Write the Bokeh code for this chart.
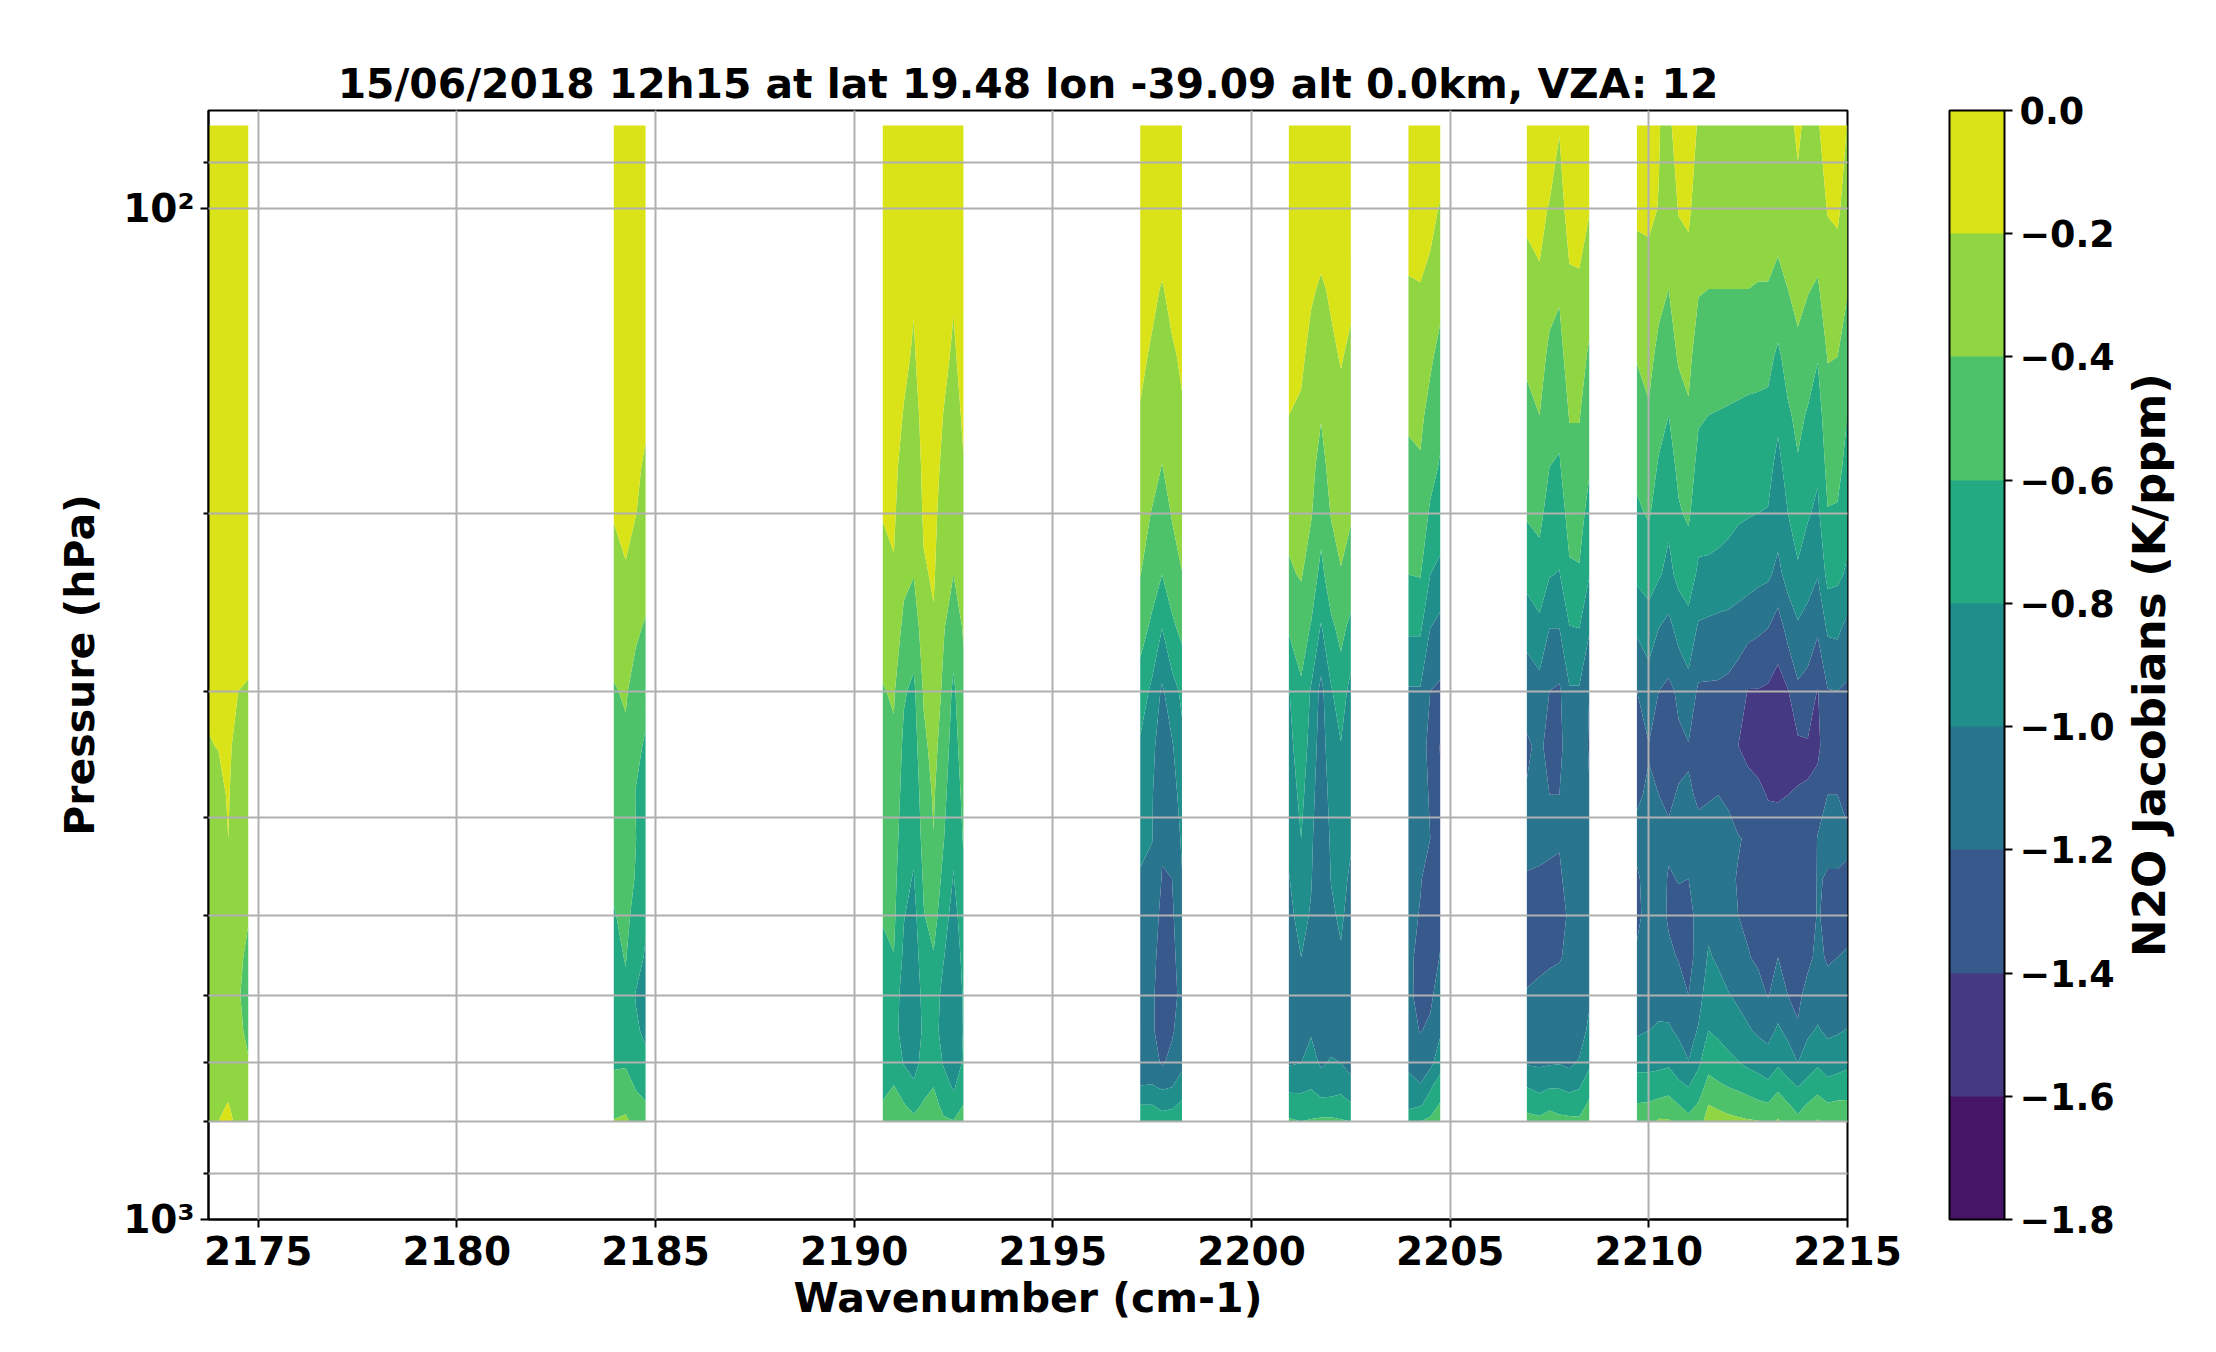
import numpy as np
from bokeh.embed import file_html
from bokeh.layouts import row
from bokeh.models import ColorBar, FixedTicker, LinearColorMapper, Range1d
from bokeh.palettes import Viridis256
from bokeh.plotting import figure
from bokeh.resources import INLINE

title_text = "15/06/2018 12h15 at lat 19.48 lon -39.09 alt 0.0km, VZA: 12"
levels = [-1.8, -1.6, -1.4, -1.2, -1.0, -0.8, -0.6, -0.4, -0.2, 0.0]
x_ticks = [2175, 2180, 2185, 2190, 2195, 2200, 2205, 2210, 2215]
pressure = [82.7, 100, 120, 140, 160, 180, 200, 230, 260, 300, 340, 380, 420, 460, 500, 550, 600, 650, 700, 740, 770, 800]

wn1 = [2173.75, 2174.0, 2174.25, 2174.5, 2174.75]
seg1 = [
 [-.01,-.03,-.05,-.07,-.09,-.11,-.125,-.15,-.165,-.185,-.205,-.24,-.26,-.28,-.3,-.32,-.33,-.32,-.3,-.27,-.24,-.22],
 [-.01,-.03,-.05,-.07,-.09,-.11,-.12,-.145,-.16,-.18,-.197,-.23,-.25,-.27,-.29,-.31,-.33,-.31,-.29,-.25,-.22,-.2],
 [-.01,-.02,-.04,-.06,-.08,-.1,-.115,-.135,-.155,-.17,-.18,-.19,-.2,-.25,-.27,-.3,-.33,-.3,-.27,-.23,-.195,-.17],
 [-.01,-.03,-.06,-.08,-.1,-.12,-.14,-.16,-.18,-.2,-.24,-.27,-.3,-.32,-.34,-.37,-.38,-.37,-.34,-.3,-.26,-.23],
 [-.01,-.03,-.06,-.08,-.1,-.12,-.14,-.16,-.18,-.205,-.26,-.3,-.33,-.37,-.39,-.43,-.48,-.43,-.39,-.33,-.28,-.25],
]
wn2 = [2183.95, 2184.25, 2184.5, 2184.75]
seg2 = [
 [-.02,-.05,-.09,-.12,-.145,-.17,-.19,-.256,-.332,-.413,-.461,-.504,-.542,-.576,-.61,-.65,-.68,-.67,-.62,-.55,-.47,-.39],
 [-.02,-.04,-.08,-.105,-.13,-.15,-.17,-.21,-.289,-.381,-.432,-.47,-.5,-.53,-.56,-.59,-.63,-.67,-.62,-.52,-.45,-.36],
 [-.02,-.06,-.1,-.135,-.16,-.18,-.195,-.286,-.37,-.47,-.57,-.605,-.595,-.61,-.65,-.72,-.81,-.77,-.7,-.61,-.54,-.47],
 [-.02,-.06,-.11,-.15,-.185,-.215,-.255,-.33,-.42,-.565,-.615,-.65,-.69,-.72,-.77,-.82,-.87,-.84,-.75,-.67,-.58,-.52],
]
wn3 = [2190.72, 2191.0, 2191.25, 2191.5, 2191.75, 2192.0, 2192.25, 2192.5, 2192.75]
seg3 = [
 [-.02,-.05,-.09,-.12,-.15,-.175,-.19,-.265,-.335,-.41,-.455,-.49,-.525,-.56,-.59,-.63,-.7,-.76,-.74,-.66,-.58,-.52],
 [-.02,-.04,-.07,-.105,-.13,-.16,-.175,-.215,-.29,-.38,-.43,-.47,-.505,-.54,-.565,-.605,-.68,-.74,-.7,-.59,-.53,-.46],
 [-.03,-.07,-.12,-.165,-.21,-.26,-.31,-.36,-.445,-.58,-.64,-.68,-.72,-.76,-.79,-.84,-.9,-.87,-.81,-.674,-.59,-.52],
 [-.03,-.09,-.185,-.22,-.27,-.31,-.35,-.395,-.51,-.64,-.69,-.74,-.77,-.81,-.87,-.93,-.97,-.95,-.88,-.76,-.66,-.55],
 [-.02,-.04,-.08,-.11,-.14,-.16,-.175,-.22,-.3,-.38,-.44,-.49,-.53,-.575,-.61,-.66,-.72,-.76,-.72,-.65,-.58,-.5],
 [-.02,-.04,-.07,-.09,-.115,-.14,-.155,-.18,-.22,-.28,-.34,-.38,-.405,-.46,-.52,-.615,-.68,-.72,-.68,-.6,-.53,-.46],
 [-.03,-.07,-.11,-.16,-.205,-.24,-.28,-.33,-.385,-.44,-.49,-.54,-.59,-.655,-.72,-.79,-.87,-.88,-.815,-.72,-.66,-.57],
 [-.03,-.09,-.185,-.225,-.27,-.31,-.35,-.4,-.51,-.64,-.69,-.74,-.77,-.81,-.87,-.92,-.98,-.97,-.9,-.82,-.72,-.59],
 [-.02,-.06,-.1,-.14,-.175,-.21,-.26,-.32,-.385,-.44,-.495,-.545,-.585,-.64,-.7,-.75,-.78,-.79,-.78,-.7,-.6,-.53],
]
wn4 = [2197.2, 2197.5, 2197.75, 2198.0, 2198.25]
seg4 = [
 [-.03,-.08,-.14,-.17,-.21,-.27,-.33,-.395,-.535,-.68,-.83,-.89,-.95,-1.02,-1.07,-1.12,-1.15,-1.16,-1.12,-.99,-.8,-.62],
 [-.03,-.1,-.17,-.22,-.285,-.34,-.41,-.53,-.635,-.85,-.97,-.99,-.995,-1.05,-1.1,-1.13,-1.16,-1.17,-1.13,-.98,-.8,-.63],
 [-.03,-.12,-.21,-.27,-.34,-.405,-.5,-.6,-.8,-1.03,-1.07,-1.12,-1.18,-1.21,-1.25,-1.3,-1.33,-1.3,-1.22,-1.02,-.87,-.68],
 [-.03,-.1,-.16,-.22,-.28,-.33,-.385,-.5,-.64,-.88,-1.02,-1.09,-1.15,-1.2,-1.23,-1.26,-1.28,-1.22,-1.15,-1.0,-.84,-.68],
 [-.03,-.08,-.14,-.18,-.215,-.27,-.33,-.405,-.55,-.76,-.85,-.92,-.97,-1.01,-1.05,-1.09,-1.13,-1.12,-1.05,-.9,-.76,-.62],
]
wn5 = [2200.94, 2201.25, 2201.5, 2201.75, 2202.0, 2202.25, 2202.5]
seg5 = [
 [-.03,-.07,-.13,-.17,-.2,-.28,-.35,-.425,-.58,-.81,-.86,-.91,-.96,-1.01,-1.05,-1.09,-1.12,-1.1,-1.02,-.84,-.71,-.57],
 [-.03,-.07,-.14,-.17,-.225,-.28,-.325,-.385,-.51,-.63,-.69,-.75,-.8,-.87,-.93,-1.0,-1.06,-1.07,-1.0,-.84,-.72,-.6],
 [-.03,-.11,-.18,-.25,-.3,-.35,-.385,-.5,-.615,-.82,-.87,-.92,-.96,-.985,-1.02,-1.07,-1.1,-1.02,-.92,-.81,-.71,-.58],
 [-.02,-.12,-.22,-.31,-.39,-.465,-.535,-.65,-.82,-1.06,-1.1,-1.14,-1.17,-1.18,-1.16,-1.08,-1.13,-1.14,-1.03,-.87,-.75,-.55],
 [-.03,-.1,-.18,-.23,-.29,-.34,-.39,-.5,-.64,-.82,-.88,-.93,-.97,-.995,-1.03,-1.07,-1.1,-1.08,-.98,-.87,-.74,-.55],
 [-.03,-.08,-.15,-.19,-.24,-.29,-.34,-.41,-.55,-.69,-.81,-.87,-.91,-.94,-.97,-1.02,-1.07,-1.07,-1.0,-.85,-.72,-.58],
 [-.03,-.11,-.17,-.23,-.285,-.335,-.38,-.49,-.65,-.87,-.98,-.99,-.98,-1.03,-1.07,-1.12,-1.15,-1.13,-1.07,-.93,-.78,-.6],
]
wn6 = [2203.95, 2204.25, 2204.5, 2204.75]
seg6 = [
 [-.02,-.11,-.22,-.31,-.375,-.44,-.51,-.6,-.77,-1.02,-1.06,-1.09,-1.12,-1.14,-1.15,-1.16,-1.16,-1.12,-1.04,-.93,-.83,-.72],
 [-.02,-.1,-.21,-.3,-.36,-.42,-.47,-.59,-.77,-1.02,-1.1,-1.16,-1.18,-1.19,-1.21,-1.25,-1.26,-1.21,-1.1,-.98,-.82,-.6],
 [-.02,-.13,-.27,-.37,-.465,-.53,-.63,-.8,-1.0,-1.2,-1.27,-1.21,-1.2,-1.26,-1.28,-1.3,-1.24,-1.16,-1.05,-.82,-.72,-.55],
 [-.03,-.22,-.34,-.46,-.55,-.62,-.7,-.85,-1.07,-1.23,-1.41,-1.37,-1.21,-1.27,-1.24,-1.19,-1.1,-1.03,-.88,-.7,-.58,-.45],
]
wn7 = [2206.93, 2207.25, 2207.5, 2207.75, 2208.0, 2208.25, 2208.5]
seg7 = [
 [-.02,-.16,-.28,-.37,-.45,-.53,-.58,-.74,-.92,-1.14,-1.22,-1.19,-1.16,-1.21,-1.24,-1.24,-1.19,-1.1,-1.02,-.8,-.67,-.52],
 [-.02,-.13,-.24,-.33,-.4,-.48,-.55,-.68,-.85,-1.08,-1.17,-1.17,-1.18,-1.21,-1.24,-1.23,-1.17,-1.1,-1.03,-.85,-.7,-.55],
 [-.03,-.22,-.34,-.44,-.53,-.6,-.68,-.79,-1.0,-1.2,-1.25,-1.2,-1.19,-1.21,-1.26,-1.22,-1.15,-1.1,-1.02,-.81,-.65,-.5],
 [-.19,-.28,-.38,-.46,-.55,-.62,-.7,-.81,-1.0,-1.23,-1.26,-1.2,-1.19,-1.22,-1.27,-1.21,-1.14,-1.08,-1.01,-.81,-.68,-.54],
 [-.02,-.12,-.24,-.32,-.39,-.46,-.53,-.63,-.81,-1.02,-1.07,-1.1,-1.12,-1.15,-1.17,-1.17,-1.16,-1.12,-1.04,-.85,-.68,-.56],
 [-.02,-.12,-.23,-.32,-.39,-.46,-.52,-.62,-.8,-1.02,-1.07,-1.11,-1.14,-1.15,-1.15,-1.15,-1.12,-1.09,-.98,-.81,-.7,-.56],
 [-.02,-.19,-.32,-.43,-.51,-.58,-.67,-.79,-.98,-1.2,-1.22,-1.19,-1.17,-1.15,-1.12,-1.07,-1.03,-.96,-.84,-.68,-.56,-.45],
]
wn8 = [2209.7, 2210.0, 2210.25, 2210.5, 2210.75, 2211.0, 2211.25, 2211.5, 2211.75, 2212.0, 2212.25,
       2212.5, 2212.75, 2213.0, 2213.25, 2213.5, 2213.75, 2214.0, 2214.25, 2214.5, 2214.75, 2215.0]
seg8 = [
 [-.03,-.17,-.29,-.39,-.48,-.56,-.63,-.76,-.97,-1.2,-1.24,-1.21,-1.18,-1.21,-1.23,-1.18,-1.1,-1.03,-.86,-.7,-.59,-.48],
 [-.02,-.17,-.26,-.35,-.42,-.51,-.58,-.73,-.88,-1.12,-1.205,-1.19,-1.18,-1.17,-1.15,-1.12,-1.08,-1.0,-.86,-.7,-.58,-.47],
 [-.19,-.205,-.35,-.45,-.54,-.62,-.69,-.78,-1.0,-1.2,-1.24,-1.2,-1.17,-1.15,-1.14,-1.12,-1.08,-.97,-.85,-.68,-.55,-.37],
 [-.26,-.31,-.4,-.49,-.6,-.68,-.76,-.85,-1.06,-1.24,-1.25,-1.22,-1.18,-1.21,-1.22,-1.17,-1.1,-.97,-.83,-.66,-.53,-.38],
 [-.06,-.19,-.31,-.38,-.49,-.56,-.62,-.75,-.93,-1.17,-1.23,-1.19,-1.18,-1.195,-1.23,-1.21,-1.13,-1.04,-.88,-.76,-.6,-.47],
 [-.05,-.17,-.28,-.36,-.42,-.5,-.57,-.72,-.86,-1.08,-1.21,-1.19,-1.18,-1.2,-1.24,-1.26,-1.2,-1.1,-.99,-.8,-.68,-.53],
 [-.23,-.29,-.39,-.48,-.58,-.66,-.73,-.83,-1.03,-1.23,-1.24,-1.21,-1.18,-1.17,-1.16,-1.13,-1.08,-.98,-.83,-.7,-.58,-.47],
 [-.23,-.31,-.4,-.5,-.6,-.67,-.74,-.83,-1.05,-1.23,-1.24,-1.21,-1.15,-1.1,-1.05,-.98,-.89,-.8,-.67,-.52,-.4,-.33],
 [-.23,-.31,-.4,-.5,-.61,-.68,-.75,-.84,-1.07,-1.23,-1.23,-1.2,-1.16,-1.12,-1.08,-1.03,-.93,-.83,-.72,-.56,-.42,-.35],
 [-.23,-.31,-.4,-.51,-.62,-.7,-.76,-.86,-1.08,-1.25,-1.24,-1.21,-1.18,-1.17,-1.13,-1.08,-.99,-.88,-.75,-.6,-.45,-.36],
 [-.23,-.31,-.4,-.52,-.63,-.71,-.78,-.89,-1.11,-1.3,-1.4,-1.29,-1.19,-1.21,-1.2,-1.13,-1.03,-.94,-.79,-.63,-.48,-.37],
 [-.23,-.31,-.4,-.53,-.64,-.72,-.79,-.92,-1.14,-1.41,-1.45,-1.33,-1.22,-1.24,-1.23,-1.19,-1.08,-.98,-.84,-.66,-.53,-.38],
 [-.23,-.31,-.41,-.53,-.65,-.73,-.8,-.95,-1.17,-1.41,-1.47,-1.36,-1.3,-1.28,-1.26,-1.23,-1.13,-1.03,-.87,-.7,-.56,-.39],
 [-.23,-.31,-.41,-.54,-.66,-.74,-.81,-.97,-1.2,-1.43,-1.47,-1.41,-1.33,-1.29,-1.27,-1.24,-1.21,-1.07,-.9,-.75,-.58,-.46],
 [-.23,-.32,-.46,-.64,-.76,-.86,-.92,-1.05,-1.3,-1.48,-1.47,-1.41,-1.35,-1.3,-1.26,-1.2,-1.11,-.97,-.83,-.64,-.49,-.38],
 [-.23,-.31,-.4,-.52,-.63,-.72,-.8,-.93,-1.13,-1.41,-1.46,-1.4,-1.32,-1.28,-1.27,-1.25,-1.2,-1.05,-.89,-.74,-.58,-.48],
 [-.18,-.23,-.33,-.46,-.55,-.62,-.68,-.84,-1.03,-1.24,-1.44,-1.39,-1.31,-1.28,-1.26,-1.25,-1.24,-1.18,-1.0,-.8,-.68,-.54],
 [-.23,-.31,-.39,-.5,-.62,-.71,-.78,-.92,-1.08,-1.28,-1.42,-1.39,-1.33,-1.29,-1.27,-1.24,-1.14,-1.04,-.88,-.74,-.58,-.47],
 [-.23,-.3,-.42,-.59,-.69,-.77,-.84,-.99,-1.17,-1.41,-1.46,-1.29,-1.19,-1.19,-1.19,-1.16,-1.09,-.98,-.83,-.65,-.53,-.38],
 [-.05,-.19,-.31,-.39,-.48,-.54,-.61,-.74,-.97,-1.21,-1.23,-1.2,-1.17,-1.21,-1.23,-1.22,-1.13,-1.04,-.88,-.74,-.58,-.47],
 [-.05,-.17,-.3,-.4,-.47,-.54,-.62,-.76,-.96,-1.2,-1.23,-1.2,-1.17,-1.21,-1.23,-1.2,-1.1,-1.02,-.86,-.72,-.56,-.46],
 [-.21,-.28,-.39,-.49,-.6,-.67,-.73,-.83,-1.06,-1.23,-1.25,-1.22,-1.19,-1.21,-1.23,-1.19,-1.1,-.99,-.84,-.68,-.57,-.47],
]

band_colors = [Viridis256[i] for i in (14, 42, 71, 99, 127, 156, 184, 213, 241)]

FONT = "DejaVu Sans"
p = figure(
    frame_width=1639, frame_height=1109,
    min_border_left=208, min_border_top=98, min_border_right=272, min_border_bottom=118,
    x_range=Range1d(2173.75, 2215), y_range=Range1d(1000, 79.9),
    y_axis_type="log", output_backend="svg", toolbar_location=None,
    background_fill_color="white", border_fill_color="white",
)

for wn, seg in [(wn1, seg1), (wn2, seg2), (wn3, seg3), (wn4, seg4), (wn5, seg5), (wn6, seg6), (wn7, seg7), (wn8, seg8)]:
    r = p.contour(wn, pressure, np.array(seg).T, levels, fill_color=band_colors)
    r.fill_renderer.glyph.line_color = r.fill_renderer.glyph.fill_color
    r.fill_renderer.glyph.line_width = 1

p.title.text = title_text
p.title.align = "center"
p.title.text_font = FONT
p.title.text_font_size = "40.8px"
p.title.text_font_style = "bold"
p.title.text_color = "black"
p.title.standoff = 6

p.xaxis.ticker = FixedTicker(ticks=x_ticks)
p.yaxis.ticker = FixedTicker(ticks=[100, 1000], minor_ticks=[90, 200, 300, 400, 500, 600, 700, 800, 900])
p.yaxis.major_label_overrides = {100: "10²", 1000: "10³"}
p.xaxis.axis_label = "Wavenumber (cm-1)"
p.yaxis.axis_label = "Pressure (hPa)"
for ax in (p.xaxis, p.yaxis):
    ax.axis_label_text_font = FONT
    ax.axis_label_text_font_size = "41px"
    ax.axis_label_text_font_style = "bold"
    ax.axis_label_text_color = "black"
    ax.major_label_text_font = FONT
    ax.major_label_text_font_size = "39px"
    ax.major_label_text_font_style = "bold"
    ax.major_label_text_color = "black"
    ax.axis_line_color = "black"
    ax.axis_line_width = 2
    ax.major_tick_line_color = "black"
    ax.major_tick_line_width = 2
    ax.major_tick_out = 8
    ax.major_tick_in = 0
    ax.minor_tick_in = 0
p.xaxis.minor_tick_line_color = None
p.yaxis.minor_tick_line_color = "black"
p.yaxis.minor_tick_line_width = 2
p.yaxis.minor_tick_out = 5
p.xaxis.major_label_standoff = 8
p.yaxis.major_label_standoff = 6
p.xaxis.axis_label_standoff = 6
p.yaxis.axis_label_standoff = 16

for g in (p.xgrid, p.ygrid):
    g.grid_line_color = "#b0b0b0"
    g.grid_line_width = 2
    g.level = "annotation"
p.ygrid.minor_grid_line_color = "#b0b0b0"
p.ygrid.minor_grid_line_width = 2
p.outline_line_color = "black"
p.outline_line_width = 2

mapper = LinearColorMapper(palette=band_colors, low=-1.8, high=0.0)
bar_ticks = [-1.8, -1.6, -1.4, -1.2, -1.0, -0.8, -0.6, -0.4, -0.2, 0.0]
bar_labels = ["\u22121.8", "\u22121.6", "\u22121.4", "\u22121.2", "\u22121.0", "\u22120.8", "\u22120.6", "\u22120.4", "\u22120.2", "0.0"]
cb = ColorBar(
    color_mapper=mapper, ticker=FixedTicker(ticks=bar_ticks),
    major_label_overrides=dict(zip(bar_ticks, bar_labels)),
    width=55, height=1109, location=(1741, 0), margin=0, padding=0,
    major_label_text_font=FONT, major_label_text_font_size="36.5px", major_label_text_font_style="bold",
    major_label_text_color="black", major_tick_line_color="black", major_tick_line_width=2,
    major_tick_in=0, major_tick_out=8, minor_tick_line_color=None, bar_line_color="black", bar_line_width=2,
    label_standoff=7,
)
p.add_layout(cb, "center")

# The colour-bar title is the left-axis label of a narrow blank figure placed next to the main one.
p2 = figure(
    frame_width=4, frame_height=1109,
    min_border_left=40, min_border_top=110, min_border_right=0, min_border_bottom=0,
    x_range=Range1d(0, 1), y_range=Range1d(0, 1),
    x_axis_location=None, output_backend="svg", toolbar_location=None,
    background_fill_color="white", border_fill_color="white",
)
p2.outline_line_color = None
p2.grid.visible = False
p2.yaxis.ticker = FixedTicker(ticks=[])
p2.yaxis.axis_line_color = None
p2.yaxis.major_tick_line_color = None
p2.yaxis.minor_tick_line_color = None
p2.yaxis.major_tick_out = 0
p2.yaxis.minor_tick_out = 0
p2.yaxis.major_label_standoff = 0
p2.yaxis.major_label_text_font_size = "0px"
p2.yaxis.axis_label = "N2O Jacobians (K/ppm)"
p2.yaxis.axis_label_standoff = 0
p2.yaxis.axis_label_text_font = FONT
p2.yaxis.axis_label_text_font_size = "45px"
p2.yaxis.axis_label_text_font_style = "bold"
p2.yaxis.axis_label_text_color = "black"

open("out.html", "w").write(file_html(row(p, p2), INLINE))
